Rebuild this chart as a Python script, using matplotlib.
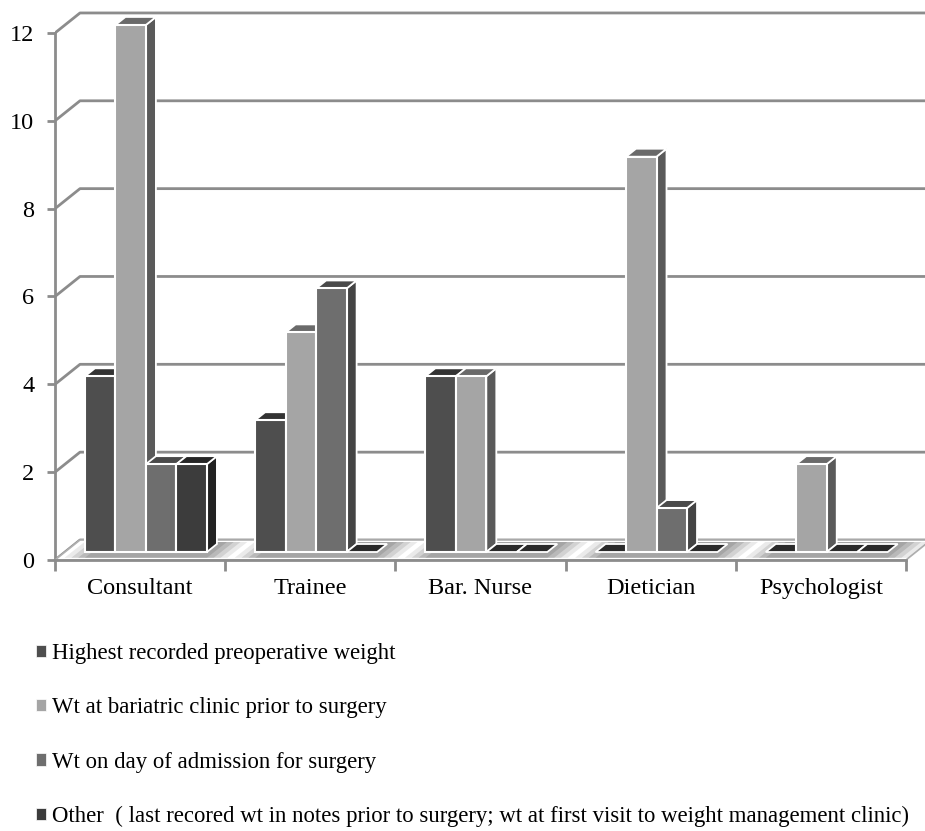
import matplotlib.pyplot as plt
import matplotlib.patches as mpatches
from matplotlib.patches import Polygon
import numpy as np

plt.rcParams['font.family'] = ['Liberation Serif', 'DejaVu Serif']

# who recorded which weight
roles = ['Consultant', 'Trainee', 'Bar. Nurse', 'Dietician', 'Psychologist']
highest_preop = [4, 3, 4, 0, 0]
bariatric_clinic = [12, 5, 4, 9, 2]
day_of_admission = [2, 6, 0, 1, 0]
other = [2, 0, 0, 0, 0]

series_names = ['Highest recorded preoperative weight',
                'Wt at bariatric clinic prior to surgery',
                'Wt on day of admission for surgery',
                'Other  ( last recored wt in notes prior to surgery; wt at first visit to weight management clinic)']
series_vals = [highest_preop, bariatric_clinic, day_of_admission, other]

# front / top / side shades for each series
front_c = ['#4e4e4e', '#a5a5a5', '#6e6e6e', '#3c3c3c']
top_c = ['#333333', '#6a6a6a', '#4a4a4a', '#262626']
side_c = ['#3a3a3a', '#5a5a5a', '#444444', '#222222']
zero_c = '#2a2a2a'

W, H = 925, 831
fig = plt.figure(figsize=(W / 100, H / 100), dpi=100)
ax = fig.add_axes([55 / W, (H - 560) / H, (W - 55) / W, 560 / H])

px_x = 170.2   # pixels per category
px_y = 43.92   # pixels per unit
xmax = (W - 55) / px_x
ymax = 560 / px_y
ax.set_xlim(0, xmax)
ax.set_ylim(0, ymax)

# depth of the box (back wall offset) and of each bar
DX, DY = 25 / px_x, 20 / px_y
bdx, bdy = 0.4 * DX, 0.4 * DY
ncat = len(roles)
bw = 30.5 / px_x

grid_c = '#8c8c8c'
# floor
floor = Polygon([(0, 0), (ncat, 0), (ncat + DX, DY), (DX, DY)], closed=True,
                facecolor='white', edgecolor='#b0b0b0', lw=1.2, zorder=1)
ax.add_patch(floor)

# back wall gridlines with the diagonal to the front axis
for v in range(0, 13, 2):
    ax.plot([0, DX, xmax], [v, v + DY, v + DY], color=grid_c, lw=2, zorder=0.5,
            solid_capstyle='butt')

# soft shading on the floor around each group
for i in range(ncat):
    g0 = i + 0.117 + bdx
    g1 = g0 + 4 * bw
    for pad, a in [(0.12, 0.12), (0.08, 0.16), (0.04, 0.2), (0.0, 0.2)]:
        sh = Polygon([(g0 - pad, 0.05), (g1 + pad, 0.05),
                      (g1 + pad + DX * 0.8, DY * 0.9), (g0 - pad + DX * 0.8, DY * 0.9)],
                     closed=True, facecolor='#555555', edgecolor='none',
                     alpha=a, zorder=1.1)
        ax.add_patch(sh)

# bars: front face via ax.bar, top and side faces as polygons
z = 2
for i in range(ncat):
    for j, vals in enumerate(series_vals):
        v = vals[i]
        x0 = i + 0.117 + bdx + j * bw
        y0 = bdy
        if v == 0:
            top = Polygon([(x0, y0), (x0 + bw, y0), (x0 + bw + bdx, y0 + bdy),
                           (x0 + bdx, y0 + bdy)], closed=True,
                          facecolor=zero_c, edgecolor='white', lw=1.3, zorder=z)
            ax.add_patch(top)
            z += 1
            continue
        side = Polygon([(x0 + bw, y0), (x0 + bw + bdx, y0 + bdy),
                        (x0 + bw + bdx, y0 + v + bdy), (x0 + bw, y0 + v)],
                       closed=True, facecolor=side_c[j], edgecolor='white',
                       lw=1.3, zorder=z)
        top = Polygon([(x0, y0 + v), (x0 + bw, y0 + v), (x0 + bw + bdx, y0 + v + bdy),
                       (x0 + bdx, y0 + v + bdy)], closed=True,
                      facecolor=top_c[j], edgecolor='white', lw=1.3, zorder=z)
        ax.add_patch(side)
        ax.add_patch(top)
        ax.bar(x0, v, width=bw, bottom=y0, align='edge', color=front_c[j],
               edgecolor='white', lw=1.5, zorder=z + 0.5)
        z += 1

# axes styling
for s in ['top', 'right']:
    ax.spines[s].set_visible(False)
ax.spines['left'].set_bounds(0, 12)
ax.spines['bottom'].set_bounds(0, ncat)
ax.spines['left'].set_color(grid_c)
ax.spines['bottom'].set_color(grid_c)
ax.spines['left'].set_linewidth(2)
ax.spines['bottom'].set_linewidth(2)
ax.spines['left'].set_zorder(0.6)

ax.set_yticks(range(0, 13, 2))
ax.set_yticklabels([str(v) for v in range(0, 13, 2)], fontsize=17.5)
ax.tick_params(axis='y', length=6, width=2, color=grid_c, pad=9)

ax.set_xticks([i + 0.5 for i in range(ncat)])
ax.set_xticklabels(roles, fontsize=17.5)
ax.set_xticks(range(ncat + 1), minor=True)
ax.tick_params(axis='x', which='major', length=0, pad=13)
ax.tick_params(axis='x', which='minor', length=8, width=2, color=grid_c)

handles = [mpatches.Patch(facecolor=front_c[j], edgecolor='white', lw=0.5)
           for j in range(4)]
fig.legend(handles, series_names, loc='upper left', bbox_to_anchor=(36 / W, 1 - 643 / H),
           frameon=False, fontsize=16.4, handlelength=0.45, handleheight=0.45,
           handletextpad=0.25, labelspacing=1.46, borderaxespad=0, borderpad=0)

fig.savefig('out.png', dpi=100)
